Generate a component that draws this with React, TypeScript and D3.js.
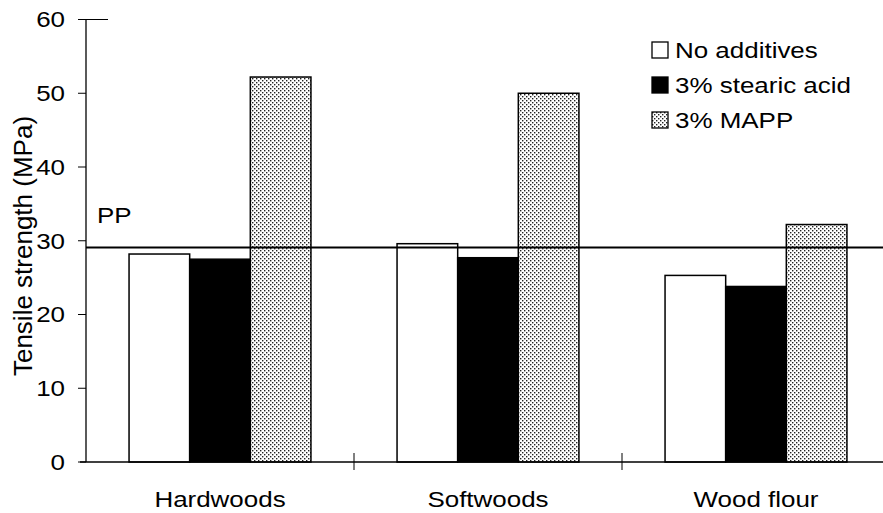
import React from "react";
import * as d3 from "d3";

const categories = ["Hardwoods", "Softwoods", "Wood flour"];
const seriesNames = ["No additives", "3% stearic acid", "3% MAPP"];
const noAdditives = [28.2, 29.6, 25.3];
const stearicAcid = [27.5, 27.7, 23.8];
const mapp = [52.2, 50.0, 32.2];
const ppStrength = 29.1;
const yTicks = [0, 10, 20, 30, 40, 50, 60];

const W = 883;
const H = 513;
const FONT = "'Liberation Sans', Arial, Helvetica, sans-serif";
const STRETCH = 1.18;

type LabelProps = {
  x: number;
  y: number;
  anchor?: "start" | "middle" | "end";
  size?: number;
  dy?: string;
  children: React.ReactNode;
};

// Horizontal label drawn slightly widened, like the original typesetting
function Label({ x, y, anchor = "start", size = 22, dy, children }: LabelProps) {
  return (
    <text
      transform={`translate(${x},${y}) scale(${STRETCH},1)`}
      textAnchor={anchor}
      fontSize={size}
      dy={dy}
      fill="#000"
    >
      {children}
    </text>
  );
}

export default function App() {
  const values = [noAdditives, stearicAcid, mapp];
  const x0 = d3.scaleBand<string>().domain(categories).range([86, 890]);
  const x1 = d3
    .scaleBand<string>()
    .domain(seriesNames)
    .range([0, x0.bandwidth()])
    .paddingInner(0)
    .paddingOuter(0.71);
  const y = d3.scaleLinear().domain([0, 60]).range([462, 19.5]);

  const fills = ["#ffffff", "#000000", "url(#dots)"];
  const axisX = 86;
  const baseY = y(0);

  return (
    <svg
      width={W}
      height={H}
      style={{ position: "absolute", left: 0, top: 0, background: "#fff" }}
      fontFamily={FONT}
    >
      <defs>
        <pattern id="dots" width={4} height={4} patternUnits="userSpaceOnUse">
          <rect width={4} height={4} fill="#fff" />
          <rect x={0} y={0} width={1.4} height={1.4} fill="#222" />
          <rect x={2} y={2} width={1.4} height={1.4} fill="#222" />
        </pattern>
      </defs>

      {/* bars */}
      {categories.map((c, ci) => (
        <g key={c} transform={`translate(${x0(c)},0)`}>
          {seriesNames.map((s, si) => {
            const v = values[si][ci];
            return (
              <rect
                key={s}
                x={x1(s)}
                y={y(v)}
                width={x1.bandwidth()}
                height={baseY - y(v)}
                fill={fills[si]}
                stroke="#000"
                strokeWidth={1.5}
              />
            );
          })}
        </g>
      ))}

      {/* PP reference line */}
      <line x1={axisX} x2={W} y1={y(ppStrength)} y2={y(ppStrength)} stroke="#000" strokeWidth={2} />
      <Label x={97} y={y(ppStrength) - 24}>
        PP
      </Label>

      {/* y axis */}
      <line x1={axisX} x2={axisX} y1={y(60)} y2={baseY} stroke="#000" strokeWidth={1.3} />
      <line x1={axisX} x2={108} y1={y(60)} y2={y(60)} stroke="#000" strokeWidth={1} />
      {yTicks.map((t) => (
        <g key={t}>
          <line x1={78} x2={axisX} y1={y(t)} y2={y(t)} stroke="#000" strokeWidth={1} />
          <Label x={65} y={y(t)} dy="0.36em" anchor="end">
            {t}
          </Label>
        </g>
      ))}
      <text
        transform={`translate(32,246) rotate(-90)`}
        textAnchor="middle"
        fontSize={26}
        fill="#000"
      >
        Tensile strength (MPa)
      </text>

      {/* x axis */}
      <line x1={80} x2={W} y1={baseY} y2={baseY} stroke="#000" strokeWidth={1.5} />
      {categories.slice(1).map((c) => (
        <line key={c} x1={x0(c)} x2={x0(c)} y1={baseY - 9} y2={baseY + 8} stroke="#000" strokeWidth={1} />
      ))}
      {categories.map((c) => (
        <Label key={c} x={(x0(c) as number) + x0.bandwidth() / 2} y={507} anchor="middle">
          {c}
        </Label>
      ))}

      {/* legend */}
      {seriesNames.map((s, i) => {
        const cy = 50 + i * 35;
        return (
          <g key={s}>
            <rect x={652} y={cy - 8} width={16} height={16} fill={fills[i]} stroke="#000" strokeWidth={1.3} />
            <Label x={675} y={cy} dy="0.36em">
              {s}
            </Label>
          </g>
        );
      })}
    </svg>
  );
}
